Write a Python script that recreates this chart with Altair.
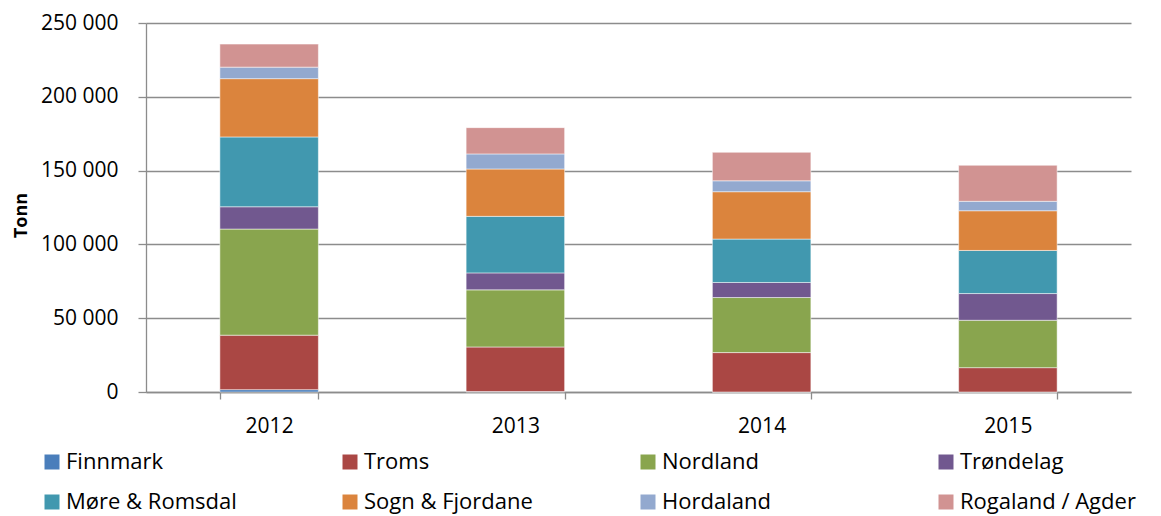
import altair as alt
import pandas as pd

years = ["2012", "2013", "2014", "2015"]
regions = ["Finnmark", "Troms", "Nordland", "Trøndelag",
           "Møre & Romsdal", "Sogn & Fjordane", "Hordaland", "Rogaland / Agder"]
colors = ["#4A7EBB", "#AA4744", "#89A54E", "#71588F",
          "#4198AF", "#DB843D", "#93A9CF", "#D19392"]

finnmark = [1600, 300, 0, 0]
troms = [36900, 30200, 26700, 16500]
nordland = [71900, 38700, 37300, 32100]
trondelag = [15100, 11500, 10200, 18100]
more = [47300, 38300, 29400, 29200]
sogn = [39500, 32100, 32100, 26900]
hordaland = [7800, 10200, 7400, 6400]
rogaland = [15600, 17800, 19300, 24400]

series = [finnmark, troms, nordland, trondelag, more, sogn, hordaland, rogaland]

rows = []
for i, (name, vals) in enumerate(zip(regions, series)):
    for y, v in zip(years, vals):
        rows.append({"År": y, "Region": name, "Tonn": v, "ord": i})
df = pd.DataFrame(rows)

FONT = "Open Sans"

chart = alt.Chart(df).mark_bar(stroke="white", strokeWidth=0.5).encode(
    x=alt.X("År:N", sort=years,
            scale=alt.Scale(paddingInner=0.6, paddingOuter=0.3),
            axis=alt.Axis(title=None, labelAngle=0, tickBand="extent",
                          tickSize=7, labelPadding=16, labelFontSize=21,
                          labelFont=FONT, labelColor="black",
                          domainColor="#8c8c8c", tickColor="#8c8c8c",
                          domainWidth=1.3, tickWidth=1.3, grid=False)),
    y=alt.Y("Tonn:Q", stack="zero",
            scale=alt.Scale(domain=[0, 250000], nice=False),
            axis=alt.Axis(title="Tonn", values=[0, 50000, 100000, 150000, 200000, 250000],
                          labelExpr="replace(format(datum.value, ','), ',', ' ')",
                          labelFontSize=21, labelFont=FONT, labelColor="black",
                          labelPadding=20, tickSize=8,
                          titleFont=FONT, titleFontSize=18, titleFontWeight="bold",
                          titleColor="black", titleAngle=-90,
                          titleX=-125, titleY=192, titleAlign="center",
                          titleBaseline="middle",
                          domainColor="#8c8c8c", tickColor="#8c8c8c",
                          domainWidth=1.3, tickWidth=1.3,
                          grid=True, gridColor="#8c8c8c", gridWidth=1.3)),
    color=alt.Color("Region:N", sort=regions,
                    scale=alt.Scale(domain=regions, range=colors),
                    legend=alt.Legend(title=None, orient="none",
                                      legendX=-105, legendY=428,
                                      direction="horizontal", columns=4,
                                      gridAlign="all", columnPadding=97,
                                      rowPadding=18, symbolType="square",
                                      symbolSize=225, symbolStrokeWidth=0,
                                      labelFont=FONT, labelFontSize=22,
                                      labelColor="black", labelOffset=3,
                                      labelLimit=300, padding=0)),
    order=alt.Order("ord:Q", sort="ascending"),
).properties(
    width=985, height=369,
    autosize=alt.AutoSizeParams(type="none"),
    padding={"left": 138, "top": 15, "right": 22, "bottom": 124},
).configure_view(stroke=None)

chart.save("out.html", embed_options={"renderer": "svg", "actions": False})
